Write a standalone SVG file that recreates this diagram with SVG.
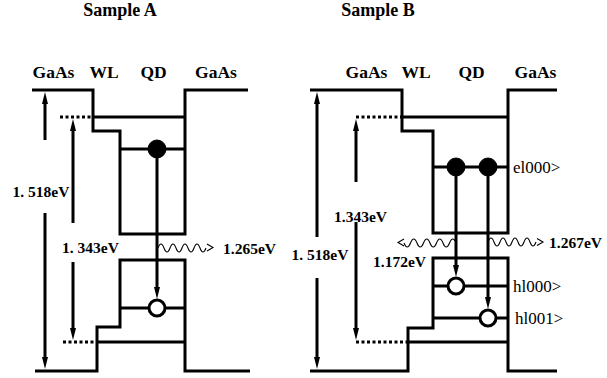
<svg xmlns="http://www.w3.org/2000/svg" width="607" height="378" viewBox="0 0 607 378">
<style>
.band{fill:none;stroke:#000;stroke-width:3;stroke-linejoin:miter}
.dot{fill:none;stroke:#000;stroke-width:3;stroke-dasharray:3 2.5}
.arr{fill:none;stroke:#000;stroke-width:3;marker-end:url(#ah)}
.wave{fill:none;stroke:#000;stroke-width:1.1}
.el{fill:#000;stroke:#000;stroke-width:1}
.hl{fill:#fff;stroke:#000;stroke-width:3}
</style>
<defs>
<marker id="ah" viewBox="0 0 12 6" refX="1" refY="3" markerWidth="12" markerHeight="6" orient="auto" markerUnits="userSpaceOnUse"><path d="M0,0 L12,3 L0,6 z" fill="#000"/></marker>
</defs>
<rect width="607" height="378" fill="#fff"/>

<g id="titles" font-family="'Liberation Serif', 'DejaVu Serif', serif" font-weight="bold" font-size="18" text-anchor="middle" fill="#000">
<text x="120" y="16">Sample A</text>
<text x="378" y="16">Sample B</text>
</g>

<g id="headersA" font-family="'Liberation Serif', 'DejaVu Serif', serif" font-weight="bold" font-size="17.5" text-anchor="middle" fill="#000">
<text x="53.5" y="78">GaAs</text>
<text x="104" y="78">WL</text>
<text x="153.5" y="78">QD</text>
<text x="216" y="78">GaAs</text>
</g>
<g id="headersB" font-family="'Liberation Serif', 'DejaVu Serif', serif" font-weight="bold" font-size="17.5" text-anchor="middle" fill="#000">
<text x="366.5" y="78">GaAs</text>
<text x="416" y="78">WL</text>
<text x="471.5" y="78">QD</text>
<text x="535.5" y="78">GaAs</text>
</g>

<g id="sampleA-bands">
<path class="band" d="M32,90 H93 V131 H120 V234 H185 V90 H248"/>
<path class="band" d="M93,117 H185"/>
<path class="dot" d="M60,117 H93"/>
<path class="band" d="M120,149 H185"/>
<path class="band" d="M35,371 H97 V327 H120 V260 H185 V371 H250"/>
<path class="band" d="M97,342 H185"/>
<path class="dot" d="M63,342 H97"/>
<path class="band" d="M120,308 H185"/>
</g>

<g id="sampleB-bands">
<path class="band" d="M310,90 H402 V131 H433 V233 H508 V90 H557"/>
<path class="band" d="M402,117 H508"/>
<path class="dot" d="M356,117 H402"/>
<path class="band" d="M433,167 H508"/>
<path class="band" d="M310,371 H408 V328 H433 V258 H508 V371 H557"/>
<path class="band" d="M408,342 H508"/>
<path class="dot" d="M356,342 H408"/>
<path class="band" d="M433,286 H508"/>
<path class="band" d="M433,318 H508"/>
</g>

<g id="connectors">
<path class="arr" d="M157,149 V288"/>
<path class="arr" d="M45,140 V103"/>
<path class="arr" d="M45,213 V358"/>
<path class="arr" d="M73,223 V130"/>
<path class="arr" d="M73,262 V329"/>
<path class="arr" d="M456,167 V266"/>
<path class="arr" d="M488,167 V298"/>
<path class="arr" d="M317,237 V103"/>
<path class="arr" d="M317,278 V358"/>
<path class="arr" d="M356,182 V130"/>
<path class="arr" d="M356,222 V329"/>
<path class="wave" d="M158,248 q3,-8 6,0 t6,0 t6,0 t6,0 t6,0 t6,0 t6,0 t6,0"/>
<path class="wave" d="M207,244 L213,247.5 L207,251"/>
<path class="wave" d="M456,243 q-3.25,-8 -6.5,0 t-6.5,0 t-6.5,0 t-6.5,0 t-6.5,0 t-6.5,0 t-6.5,0 t-6.5,0"/>
<path class="wave" d="M404,239 L398,242.5 L404,246"/>
<path class="wave" d="M488,242 q3,-8 6,0 t6,0 t6,0 t6,0 t6,0 t6,0 t6,0 t6,0"/>
<path class="wave" d="M537,238.5 L543,242 L537,245.5"/>
</g>

<g id="carriersA">
<circle class="el" cx="157" cy="149" r="9"/>
<circle class="hl" cx="157" cy="308" r="8"/>
</g>
<g id="carriersB">
<circle class="el" cx="456" cy="167" r="9"/>
<circle class="el" cx="488" cy="167" r="9"/>
<circle class="hl" cx="456" cy="286" r="8"/>
<circle class="hl" cx="488" cy="318" r="8"/>
</g>

<g id="labelsA" font-family="'Liberation Serif', 'DejaVu Serif', serif" font-weight="bold" font-size="15.5" fill="#000">
<text x="41" y="197" text-anchor="middle">1. 518eV</text>
<text x="90.5" y="253" text-anchor="middle">1. 343eV</text>
<text x="223" y="254">1.265eV</text>
</g>
<g id="labelsB" font-family="'Liberation Serif', 'DejaVu Serif', serif" font-weight="bold" font-size="15.5" fill="#000">
<text x="320" y="260" text-anchor="middle">1. 518eV</text>
<text x="360.5" y="222" text-anchor="middle">1.343eV</text>
<text x="399.5" y="267" text-anchor="middle">1.172eV</text>
<text x="549" y="248">1.267eV</text>
</g>
<g id="kets" font-family="'Liberation Serif', 'DejaVu Serif', serif" font-size="17" fill="#000">
<text x="513" y="173">el000&gt;</text>
<text x="513" y="292">hl000&gt;</text>
<text x="515" y="324">hl001&gt;</text>
</g>
</svg>
